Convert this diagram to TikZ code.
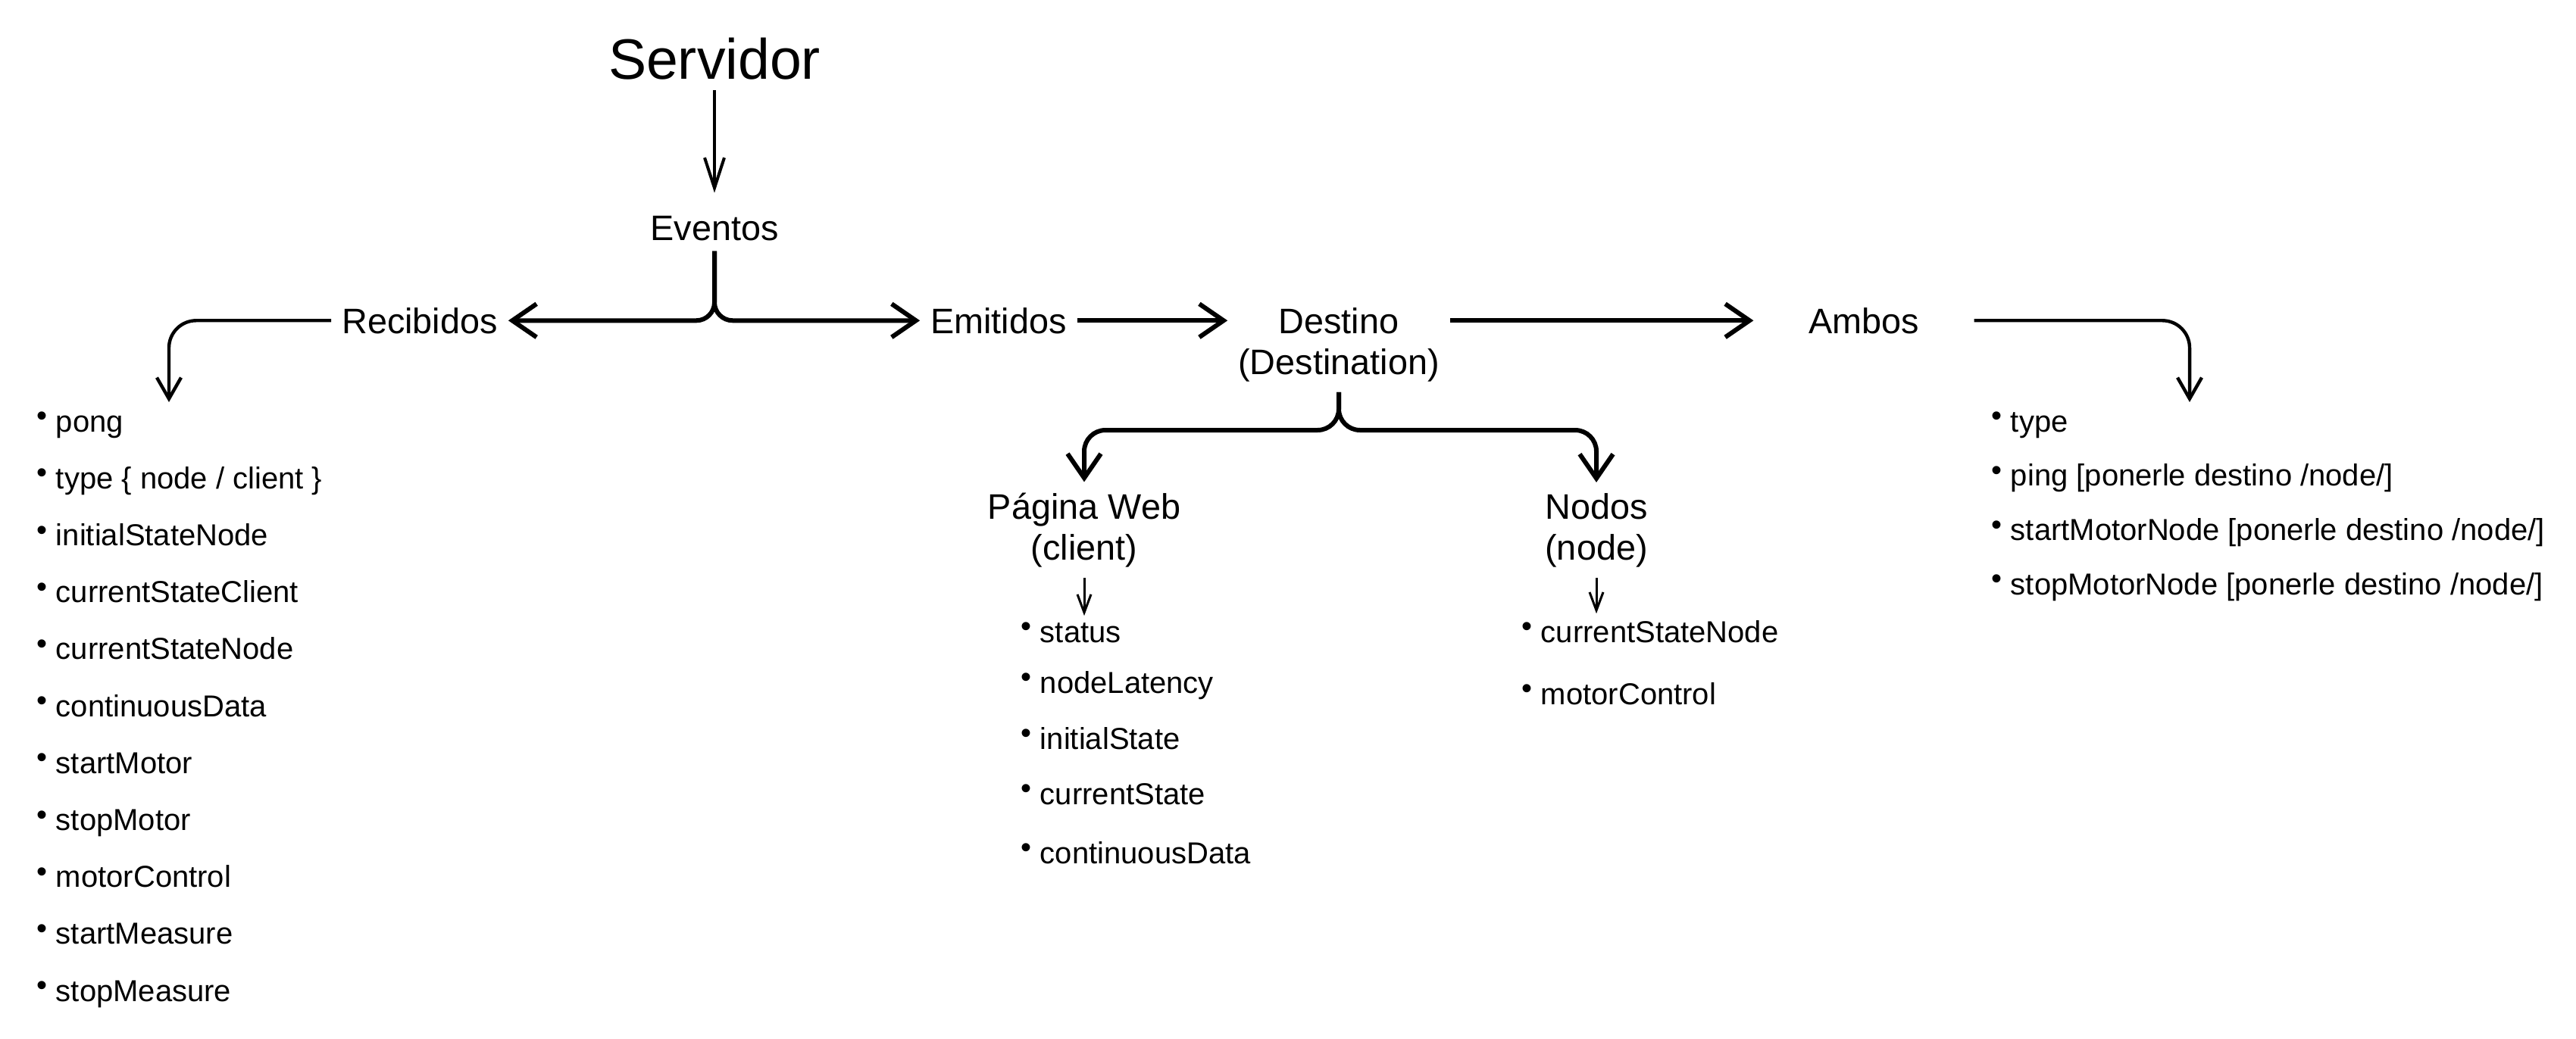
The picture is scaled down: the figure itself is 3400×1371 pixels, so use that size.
\documentclass[tikz,border=0pt]{standalone}
\usepackage{fontspec}
\setmainfont{Liberation Sans}
\usepackage{tikz}
\usetikzlibrary{arrows.meta}

\tikzset{
    lbl/.style={font=\fontsize{11.7}{13.5}\selectfont, align=center, anchor=base},
    itm/.style={font=\fontsize{10}{12}\selectfont, anchor=base west, inner sep=0pt},
    forkarr/.style={line width=1.5pt, rounded corners=6pt,
        -{Straight Barb[length=8pt, width=11pt]}},
    curvearr/.style={line width=1.1pt, rounded corners=9pt,
        -{Straight Barb[length=7pt, width=8pt]}},
    downarr/.style={line width=1pt, -{Straight Barb[length=10pt, width=6.5pt]}},
    smallarr/.style={line width=0.75pt, -{Straight Barb[length=6pt, width=4.5pt]}}
}
\newcommand{\bul}{\raisebox{0.35ex}{\textbullet}\ }

\begin{document}
\begin{tikzpicture}[x=0.25pt, y=0.25pt]

    \useasboundingbox (0, 0) rectangle (3400, -1371);

    % titulo y eventos
    \node[lbl, font=\fontsize{18.8}{22}\selectfont] (serv) at (943, -104) {Servidor};
    \node[lbl] (ev) at (943, -317) {Eventos};

    \node[lbl] (rec) at (554, -440) {Recibidos};
    \node[lbl] (emi) at (1318, -440) {Emitidos};
    \node[lbl] (dest) at (1767, -494) {Destino\\(Destination)};
    \node[lbl, inner xsep=18pt] (amb) at (2460, -440) {Ambos};

    \node[lbl] (pweb) at (1431, -739) {Página Web\\(client)};
    \node[lbl] (nod) at (2107, -739) {Nodos\\(node)};

    % puntas libres
    \coordinate (recend) at (223, -531);
    \coordinate (ambend) at (2890, -531);
    \coordinate (dfork) at (1767, -568);

    \draw[downarr, shorten >=4pt] (serv) -- (ev);
    \draw[forkarr] (ev.south) |- (rec.east);
    \draw[forkarr] (ev.south) |- (emi.west);
    \draw[curvearr] (rec.west) -| (recend);
    \draw[forkarr] (emi.east) -- (emi.east -| dest.west);
    \draw[forkarr] (dest.east |- emi.east) -- (amb.west);
    \draw[curvearr] (amb.east) -| (ambend);
    \draw[forkarr, rounded corners=7pt] (dest.south) -- (dfork) -| (pweb.north);
    \draw[forkarr, rounded corners=7pt] (dest.south) -- (dfork) -| (nod.north);

    % listas
    \foreach \txt [count=\i] in {pong, type \{ node / client \}, initialStateNode,
        currentStateClient, currentStateNode, continuousData, startMotor,
        stopMotor, motorControl, startMeasure, stopMeasure}
        \node[itm] (rl\i) at (48, {-570 - (\i-1)*75.2}) {\bul\txt};

    \foreach \txt/\y [count=\i] in {status/848, nodeLatency/915,
        initialState/989, currentState/1062, continuousData/1140}
        \node[itm] (wl\i) at (1347, -\y) {\bul\txt};

    \foreach \txt/\y [count=\i] in {currentStateNode/848, motorControl/930}
        \node[itm] (nl\i) at (2008, -\y) {\bul\txt};

    \foreach \txt [count=\i] in {type, ping [ponerle destino /node/],
        startMotorNode [ponerle destino /node/],
        stopMotorNode [ponerle destino /node/]}
        \node[itm] (al\i) at (2628, {-570 - (\i-1)*71.7}) {\bul\txt};

    \draw[smallarr] (pweb.south) -- ([yshift=2pt]pweb.south |- wl1.north);
    \draw[smallarr] (nod.south) -- ([yshift=2pt]nod.south |- nl1.north);

\end{tikzpicture}
\end{document}
